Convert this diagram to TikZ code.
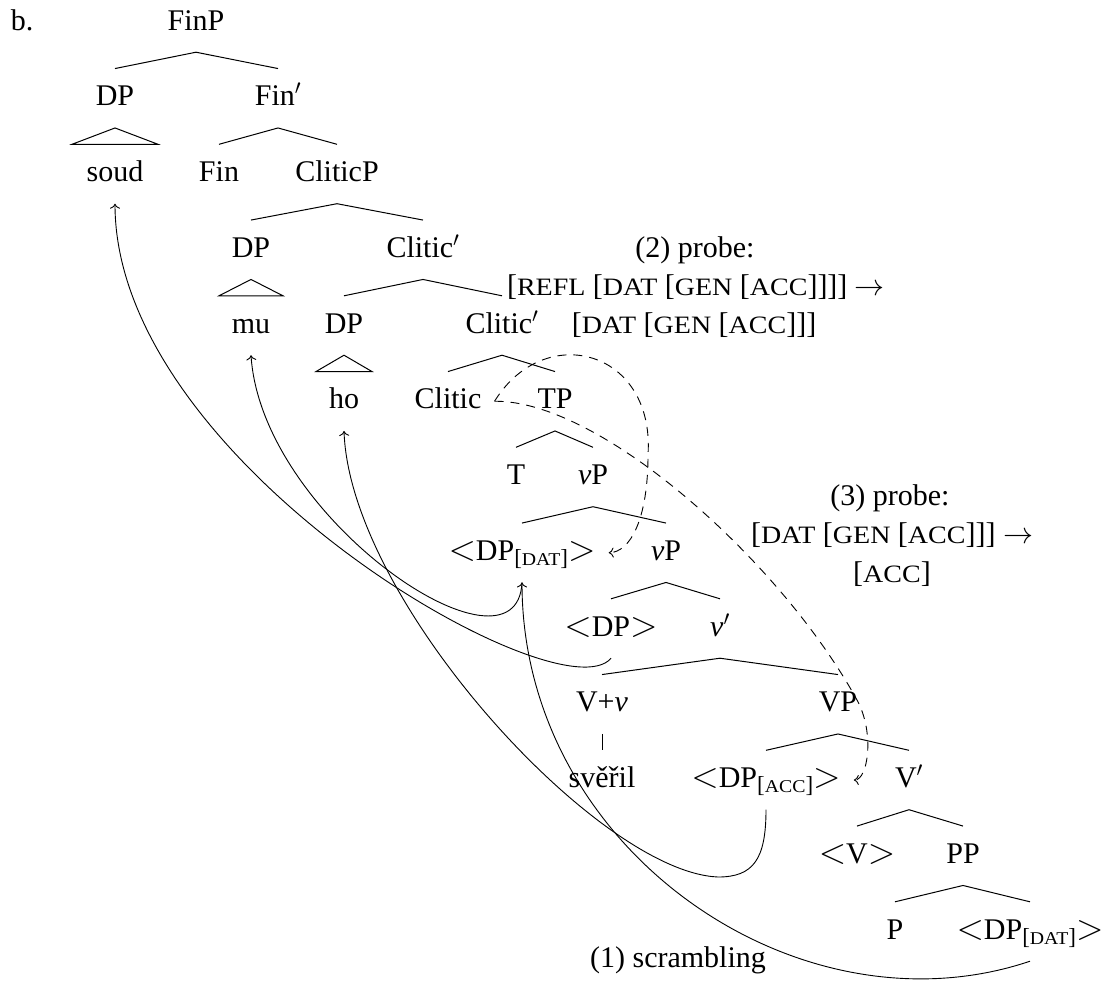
\RequirePackage{fix-cm}
\documentclass[tikz,border=0pt]{standalone}
\usepackage{fontspec}
\setmainfont{Liberation Serif}
\usepackage{graphicx}
\usetikzlibrary{arrows.meta}
\newcommand\bigfs{\fontsize{30}{36}\selectfont}
\newcommand\sck[1]{\scalebox{1.12}[1]{\fontsize{25}{25}\selectfont #1}}
\newcommand\subsc[1]{\raisebox{-5pt}{\fontsize{23}{23}\selectfont[\scalebox{1.1}[1]{\fontsize{18}{18}\selectfont #1}]}}
\newcommand\lang{\scalebox{1.2}{$<$}}
\newcommand\rang{\scalebox{1.2}{$>$}}
\tikzset{
  lab/.style={font=\bigfs, inner xsep=0pt, inner ysep=15pt, text height=22pt, text depth=7pt, anchor=base},
  note/.style={font=\bigfs, inner sep=0pt, anchor=base},
  br/.style={line width=1pt},
  mv/.style={line width=0.9pt, -{Computer Modern Rightarrow[length=5pt,width=10pt]}},
  probe/.style={mv, dash pattern=on 9pt off 7pt},
}
\begin{document}
\begin{tikzpicture}[x=1pt,y=-1pt]
\useasboundingbox (0,0) rectangle (1110,983);
% nodes
\node[lab] (b) at (22,30) {b.};
\node[lab] (finp) at (196,30) {FinP};
\node[lab] (dp1) at (115,105.75) {DP};
\node[lab] (finbar) at (278,105.75) {Fin$'$};
\node[lab] (soud) at (115,181.5) {soud};
\node[lab] (fin) at (219,181.5) {Fin};
\node[lab] (cliticp) at (337,181.5) {CliticP};
\node[lab] (dp2) at (251,257.25) {DP};
\node[lab] (clbar1) at (423,257.25) {Clitic$'$};
\node[lab] (mu) at (251,333) {mu};
\node[lab] (dp3) at (344,333) {DP};
\node[lab] (clbar2) at (502,333) {Clitic$'$};
\node[lab] (ho) at (344,408.75) {ho};
\node[lab] (clitic) at (448,408.75) {Clitic};
\node[lab] (tp) at (555,408.75) {TP};
\node[lab] (tt) at (516,484.5) {T};
\node[lab] (vp1) at (593,484.5) {\textit{v}P};
\node[lab] (vpdat) at (522,560.25) {\lang DP\subsc{DAT}\rang};
\node[lab] (vp2) at (666,560.25) {\textit{v}P};
\node[lab] (dpsubj) at (611,636) {\lang DP\rang};
\node[lab] (vbar) at (720,636) {\textit{v}$'$};
\node[lab] (vv) at (602,711.75) {V+\textit{v}};
\node[lab] (vpp) at (838,711.75) {VP};
\node[lab] (sveril) at (602,787.5) {svěřil};
\node[lab] (dpacc) at (766,787.5) {\lang DP\subsc{ACC}\rang};
\node[lab] (Vbar) at (909,787.5) {V$'$};
\node[lab] (vtrace) at (857,863.25) {\lang V\rang};
\node[lab] (pp) at (963,863.25) {PP};
\node[lab] (pnode) at (895,939) {P};
\node[lab] (ppdat) at (1030,939) {\lang DP\subsc{DAT}\rang};
% annotations
\node[note] (probe2a) at (695,257.25) {(2) probe:};
\node[note] (probe2b) at (696,295) {[\sck{REFL} [\sck{DAT} [\sck{GEN} [\sck{ACC}]]]] $\rightarrow$};
\node[note] (probe2c) at (694,333) {[\sck{DAT} [\sck{GEN} [\sck{ACC}]]]};
\node[note] (probe3a) at (890,505) {(3) probe:};
\node[note] (probe3b) at (892,543) {[\sck{DAT} [\sck{GEN} [\sck{ACC}]]] $\rightarrow$};
\node[note] (probe3c) at (892,582) {[\sck{ACC}]};
\node[note] (scr) at (678,967) {(1) scrambling};
% branches
\draw[br] (dp1.north) -- (finp.south) -- (finbar.north);
\draw[br] (fin.north) -- (finbar.south) -- (cliticp.north);
\draw[br] (dp2.north) -- (cliticp.south) -- (clbar1.north);
\draw[br] (dp3.north) -- (clbar1.south) -- (clbar2.north);
\draw[br] (clitic.north) -- (clbar2.south) -- (tp.north);
\draw[br] (tt.north) -- (tp.south) -- (vp1.north);
\draw[br] (vpdat.north) -- (vp1.south) -- (vp2.north);
\draw[br] (dpsubj.north) -- (vp2.south) -- (vbar.north);
\draw[br] (vv.north) -- (vbar.south) -- (vpp.north);
\draw[line width=0.6pt] (vv.south) -- (sveril.north);
\draw[br] (dpacc.north) -- (vpp.south) -- (Vbar.north);
\draw[br] (vtrace.north) -- (Vbar.south) -- (pp.north);
\draw[br] (pnode.north) -- (pp.south) -- (ppdat.north);
% roofs
\draw[br] (dp1.south) -- ([xshift=-43pt]soud.north) -- ([xshift=43pt]soud.north) -- cycle;
\draw[br] (dp2.south) -- ([xshift=-32pt]mu.north) -- ([xshift=32pt]mu.north) -- cycle;
\draw[br] (dp3.south) -- ([xshift=-28pt]ho.north) -- ([xshift=28pt]ho.north) -- cycle;
% movement arrows
\draw[mv] (dpsubj.south) .. controls +(-50,60) and +(0,260) .. (soud.south);
\draw[mv] (vpdat.south) .. controls +(-5,107) and +(11,165) .. (mu.south);
\coordinate (accbot) at (718,877);
\draw[mv] (dpacc.south) .. controls +(0,50) and +(35,0) .. (accbot) .. controls +(-120,-5) and +(6,170) .. (ho.south);
\draw[mv] (ppdat.south) .. controls +(-232,78) and +(0,267) .. (vpdat.south);
% probe arrows
\coordinate (p2mid) at (648,455);
\draw[probe] ([xshift=13pt]clitic.east) .. controls (545,320) and (655,350) .. (p2mid) .. controls (648,520) and (630,552) .. ([xshift=13pt]vpdat.east);
\coordinate (p3mid) at (857,700);
\draw[probe] ([xshift=13pt]clitic.east) .. controls (600,400) and (780,560) .. (p3mid) .. controls (875,733) and (868,780) .. ([xshift=13pt]dpacc.east);
\end{tikzpicture}
\end{document}
